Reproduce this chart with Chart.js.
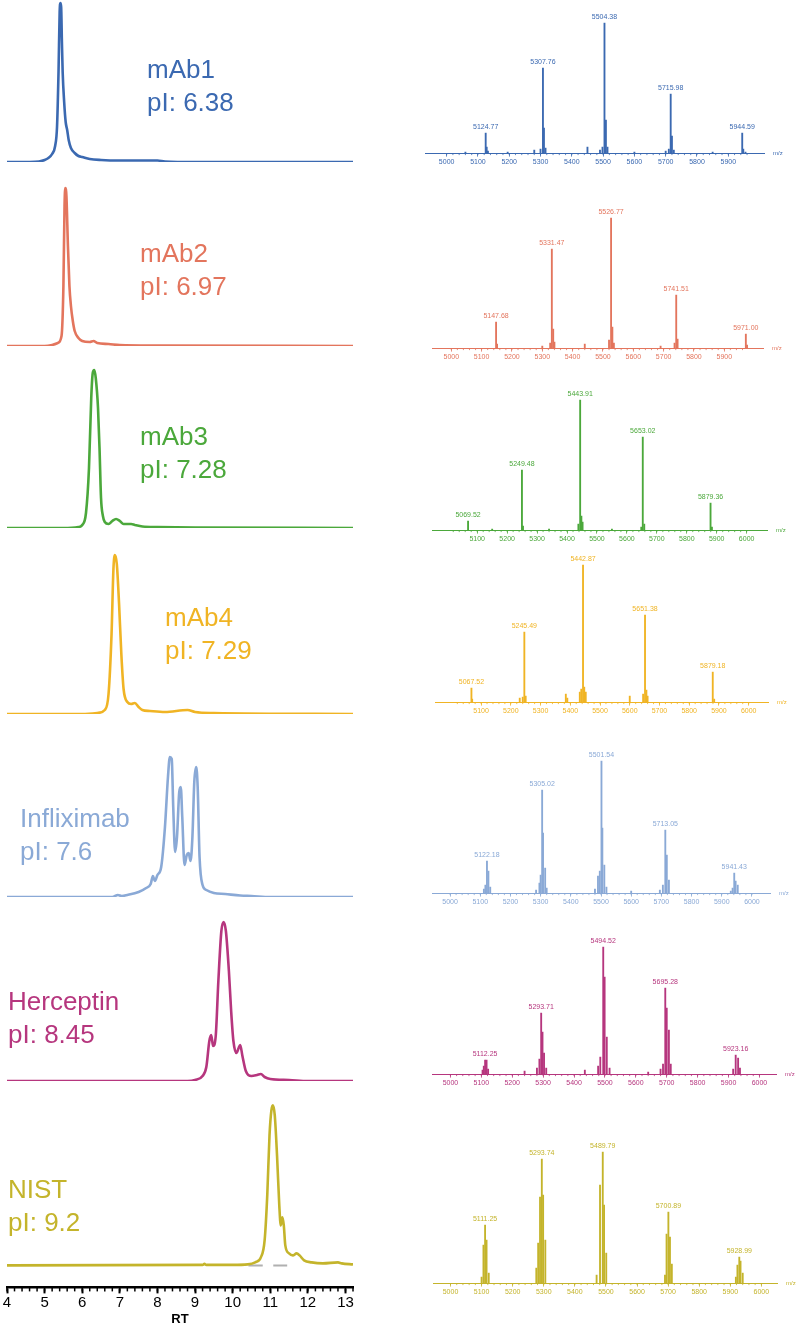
<!DOCTYPE html>
<html>
<head>
<meta charset="utf-8">
<script src="https://cdn.jsdelivr.net/npm/chart.js@4"></script>
<style>
    body { margin: 0; background: #fff; }
    #fig { position: relative; width: 800px; height: 1327px; overflow: hidden; font-family: "Liberation Sans", Arial, sans-serif; }
    #fig canvas { position: absolute; }
    .nome { position: absolute; font-size: 26px; line-height: 33px; white-space: nowrap; }
</style>
</head>
<body>
<div id="fig"></div>
<script>
// ==========================
// DADOS
// ==========================
const amostras = ["mAb1", "mAb2", "mAb3", "mAb4", "Infliximab", "Herceptin", "NIST"];
const pIs = ["6.38", "6.97", "7.28", "7.29", "7.6", "8.45", "9.2"];
const cores = ["#3b69b1", "#e3755d", "#4ba83b", "#f0b424", "#8aa9d6", "#b6367e", "#c4b42b"];

const rtTicks = [4, 5, 6, 7, 8, 9, 10, 11, 12, 13];
const mzTicks = [5000, 5100, 5200, 5300, 5400, 5500, 5600, 5700, 5800, 5900, 6000];

// cromatogramas (RT, sinal)
const rtMab1 = [4, 4.6, 4.85, 5.0, 5.1, 5.2, 5.28, 5.33, 5.37, 5.4, 5.42, 5.44, 5.46, 5.48, 5.52, 5.56, 5.6, 5.64, 5.7, 5.8, 5.9, 6.0, 6.2, 6.5, 7.0, 8.0, 8.2, 9.0, 13.2];
const sinalMab1 = [0, 0, 0.5, 2, 4, 8, 16, 35, 90, 150, 159, 155, 120, 90, 60, 40, 32, 22, 14, 9, 6, 5, 3, 2, 1.5, 1.5, 0.5, 0, 0];

const rtMab2 = [4, 5.0, 5.2, 5.35, 5.45, 5.5, 5.53, 5.55, 5.58, 5.62, 5.66, 5.7, 5.75, 5.8, 5.9, 6.0, 6.2, 6.3, 6.4, 6.7, 7.0, 8.0, 13.2];
const sinalMab2 = [0, 0, 1, 3, 10, 60, 140, 158, 150, 100, 60, 40, 25, 15, 8, 5, 4, 5, 3, 2, 1, 0.5, 0];

const rtMab3 = [4, 5.5, 5.9, 6.0, 6.1, 6.18, 6.24, 6.28, 6.32, 6.36, 6.42, 6.46, 6.5, 6.55, 6.6, 6.7, 6.8, 6.9, 7.0, 7.1, 7.3, 7.4, 7.6, 8.0, 9.0, 13.2];
const sinalMab3 = [0, 0, 1, 3, 15, 60, 130, 155, 158, 150, 120, 80, 30, 12, 6, 4, 7, 9, 7, 4, 4, 3, 1.5, 1, 0.5, 0];

const rtMab4 = [4, 6.0, 6.4, 6.6, 6.7, 6.78, 6.83, 6.87, 6.92, 6.98, 7.04, 7.1, 7.2, 7.3, 7.4, 7.5, 7.6, 7.8, 8.2, 8.8, 9.0, 9.5, 13.2];
const sinalMab4 = [0, 0, 1, 4, 20, 80, 145, 159, 150, 110, 60, 25, 12, 10, 11, 7, 4, 3, 2, 4, 2, 1, 0];

const rtInflix = [4, 6.8, 6.95, 7.05, 7.2, 7.5, 7.7, 7.82, 7.88, 7.93, 8.0, 8.1, 8.2, 8.28, 8.33, 8.38, 8.42, 8.47, 8.52, 8.58, 8.62, 8.66, 8.72, 8.78, 8.83, 8.88, 8.93, 8.98, 9.03, 9.07, 9.12, 9.2, 9.3, 9.5, 9.8, 10.2, 10.5, 11.0, 13.2];
const sinalInflix = [0, 0, 2, 1, 2, 5, 9, 13, 21, 16, 22, 30, 70, 120, 140, 138, 90, 45, 60, 105, 110, 80, 32, 42, 44, 36, 60, 115, 130, 110, 40, 12, 7, 4, 3, 1.5, 1, 0, 0];

const rtHercep = [4, 8.8, 9.0, 9.2, 9.3, 9.38, 9.43, 9.48, 9.55, 9.62, 9.7, 9.76, 9.82, 9.9, 9.96, 10.02, 10.1, 10.16, 10.2, 10.26, 10.35, 10.5, 10.65, 10.75, 10.85, 11.0, 11.5, 12.0, 13.2];
const sinalHercep = [0, 0, 1, 5, 14, 40, 46, 35, 45, 100, 150, 159, 150, 110, 70, 40, 28, 33, 36, 25, 10, 5, 6, 7, 4, 2, 1, 0, 0];

const rtNist = [4, 9.2, 9.25, 9.3, 10.0, 10.4, 10.6, 10.75, 10.85, 10.92, 10.98, 11.03, 11.07, 11.12, 11.18, 11.24, 11.28, 11.32, 11.36, 11.4, 11.5, 11.6, 11.7, 11.78, 11.9, 12.1, 12.4, 12.8, 12.9, 13.2];
const sinalNist = [0, 0.5, 1.5, 0.5, 0.5, 1, 3, 8, 25, 70, 130, 155, 160, 150, 110, 60, 40, 48, 40, 20, 12, 10, 12, 10, 5, 3, 2, 3, 2, 1];
const marcasNist = [[10.42, 10.8], [11.08, 11.45]];

// espectros (m/z, intensidade, rótulos)
const mzMab1 = [5060, 5124.77, 5128, 5132, 5195, 5280, 5300, 5307.76, 5311, 5316, 5450, 5490, 5498, 5504.38, 5509, 5514, 5600, 5700, 5710, 5715.98, 5720, 5726, 5850, 5944.59, 5948, 5955];
const intMab1 = [1, 20, 6, 2, 1, 3, 4, 85, 25, 5, 6, 3, 6, 130, 33, 6, 1, 2, 4, 59, 17, 3, 1, 20, 4, 1];
const picosMab1 = ["5124.77", "5307.76", "5504.38", "5715.98", "5944.59"];

const mzMab2 = [5147.68, 5151, 5300, 5326, 5331.47, 5336, 5340, 5440, 5520, 5526.77, 5531, 5536, 5690, 5736, 5741.51, 5746, 5971.00, 5975];
const intMab2 = [26, 4, 2, 5, 99, 19, 6, 4, 8, 130, 21, 5, 2, 5, 53, 9, 14, 3];
const picosMab2 = ["5147.68", "5331.47", "5526.77", "5741.51", "5971.00"];

const mzMab3 = [5069.52, 5150, 5249.48, 5253, 5340, 5438, 5443.91, 5448, 5452, 5550, 5648, 5653.02, 5658, 5879.36, 5884];
const intMab3 = [9, 1, 60, 4, 1, 6, 130, 14, 8, 1, 3, 93, 6, 27, 3];
const picosMab3 = ["5069.52", "5249.48", "5443.91", "5653.02", "5879.36"];

const mzMab4 = [5067.52, 5070, 5230, 5240, 5245.49, 5250, 5385, 5390, 5432, 5437, 5442.87, 5447, 5452, 5600, 5645, 5651.38, 5656, 5660, 5879.18, 5884];
const intMab4 = [14, 3, 4, 5, 70, 6, 8, 4, 10, 13, 137, 15, 10, 6, 8, 87, 12, 6, 30, 3];
const picosMab4 = ["5067.52", "5245.49", "5442.87", "5651.38", "5879.18"];

const mzInflix = [5112, 5117, 5122.18, 5127, 5133, 5285, 5296, 5300, 5305.02, 5308, 5315, 5320, 5480, 5490, 5496, 5501.54, 5504.5, 5511, 5518, 5600, 5695, 5705, 5713.05, 5718, 5725, 5930, 5936, 5941.43, 5946, 5953];
const intInflix = [4, 8, 32, 22, 6, 3, 10, 18, 103, 60, 25, 5, 4, 17, 22, 132, 65, 28, 6, 2, 3, 8, 63, 38, 13, 2, 5, 20, 12, 8];
const picosInflix = ["5122.18", "5305.02", "5501.54", "5713.05", "5941.43"];

const mzHercep = [5104, 5108, 5112.25, 5117, 5122, 5240, 5280, 5288, 5293.71, 5298, 5303, 5310, 5435, 5478, 5485, 5494.52, 5499, 5506, 5515, 5640, 5680, 5688, 5695.28, 5700, 5707, 5713, 5915, 5923.16, 5931, 5937];
const intHercep = [4, 8, 14, 14, 5, 3, 6, 15, 61, 42, 21, 6, 4, 8, 17, 127, 97, 37, 6, 2, 5, 10, 86, 66, 44, 10, 5, 19, 16, 6];
const picosHercep = ["5112.25", "5293.71", "5494.52", "5695.28", "5923.16"];

const mzNist = [5100, 5106, 5111.25, 5116, 5123, 5276, 5282, 5288, 5293.74, 5298, 5305, 5470, 5481, 5489.79, 5494, 5501, 5690, 5695, 5700.89, 5706, 5712, 5918, 5923, 5928.99, 5933, 5940];
const intNist = [6, 38, 58, 43, 10, 15, 40, 86, 124, 88, 43, 8, 98, 131, 78, 30, 8, 49, 71, 46, 19, 6, 18, 26, 22, 10];
const picosNist = ["5111.25", "5293.74", "5489.79", "5700.89", "5928.99"];

const cromatogramas = [
    [rtMab1, sinalMab1], [rtMab2, sinalMab2], [rtMab3, sinalMab3], [rtMab4, sinalMab4],
    [rtInflix, sinalInflix], [rtHercep, sinalHercep], [rtNist, sinalNist]
];
const espectros = [
    [mzMab1, intMab1, picosMab1], [mzMab2, intMab2, picosMab2], [mzMab3, intMab3, picosMab3],
    [mzMab4, intMab4, picosMab4], [mzInflix, intInflix, picosInflix], [mzHercep, intHercep, picosHercep],
    [mzNist, intNist, picosNist]
];

// ==========================
// LAYOUT
// ==========================
const FONTE = '"Liberation Sans", Arial, sans-serif';
const RT_X0 = 7;         // pixel do RT 4
const PX_RT = 37.56;     // pixels por unidade de RT
const linhasBase = [162, 346, 528, 714, 897, 1081, 1265];
const nomesPos = [[147, 53], [140, 237], [140, 420], [165, 601], [20, 802], [8, 985], [8, 1173]];

const espLayout = [
    { eixoY: 153, x5000: 430, px100: 34.8, min: 4985, max: 5960 },
    { eixoY: 348, x5000: 435, px100: 33.7, min: 4991, max: 5973 },
    { eixoY: 530, x5000: 430, px100: 33.3, min: 5005, max: 6012 },
    { eixoY: 702, x5000: 435, px100: 33.0, min: 5001, max: 6009 },
    { eixoY: 893, x5000: 435, px100: 33.2, min: 4991, max: 6009 },
    { eixoY: 1074, x5000: 435, px100: 34.0, min: 4991, max: 6003 },
    { eixoY: 1283, x5000: 435, px100: 34.2, min: 4994, max: 6000 }
];

const fig = document.getElementById("fig");
Chart.defaults.font.family = FONTE;

// tracinhos menores do eixo x
const tracosMenores = {
    id: "tracosMenores",
    afterDraw(chart, args, opts) {
        if (!opts.passo) return;
        const x = chart.scales.x;
        const ctx = chart.ctx;
        ctx.save();
        ctx.strokeStyle = opts.cor;
        ctx.lineWidth = opts.largura;
        const n = Math.floor((x.max - opts.inicio) / opts.passo + 1e-6);
        for (let k = 0; k <= n; k++) {
            const px = x.getPixelForValue(opts.inicio + k * opts.passo);
            ctx.beginPath();
            ctx.moveTo(px, x.top);
            ctx.lineTo(px, x.top + opts.comprimento);
            ctx.stroke();
        }
        ctx.restore();
    }
};

// rótulos dos picos e "m/z"
const rotulosPicos = {
    id: "rotulosPicos",
    afterDatasetsDraw(chart, args, opts) {
        if (!opts.picos) return;
        const ctx = chart.ctx;
        const x = chart.scales.x, y = chart.scales.y;
        ctx.save();
        ctx.fillStyle = opts.cor;
        ctx.font = "7px " + FONTE;
        ctx.textAlign = "center";
        ctx.textBaseline = "bottom";
        opts.picos.forEach(p => {
            const k = opts.mz.indexOf(parseFloat(p));
            ctx.fillText(p, x.getPixelForValue(opts.mz[k]), y.getPixelForValue(opts.int[k]) - 3);
        });
        ctx.textAlign = "left";
        ctx.textBaseline = "middle";
        ctx.font = "6px " + FONTE;
        ctx.fillText("m/z", x.right + 9, x.top);
        ctx.restore();
    }
};

// ==========================
// CROMATOGRAMAS
// ==========================
function cromatograma(i) {
    const [rt, sinal] = cromatogramas[i];
    const comEixo = i === cromatogramas.length - 1;
    const pad = 20;
    const ymin = comEixo ? -22 : 0;

    const canvas = document.createElement("canvas");
    canvas.width = Math.round(9.2 * PX_RT) + 2 * pad;
    canvas.height = comEixo ? 240 : 185;
    canvas.style.left = (RT_X0 - pad) + "px";
    fig.appendChild(canvas);

    const datasets = [{
        data: rt.map((x, k) => ({ x, y: sinal[k] })),
        borderColor: cores[i],
        borderWidth: 2.6,
        pointRadius: 0,
        cubicInterpolationMode: "monotone",
        fill: false
    }];

    if (comEixo) {
        marcasNist.forEach(m => {
            datasets.push({
                data: [{ x: m[0], y: 0 }, { x: m[1], y: 0 }],
                borderColor: "#b0b0b0",
                borderWidth: 2,
                pointRadius: 0
            });
        });
    }

    const chart = new Chart(canvas, {
        type: "line",
        data: { datasets },
        options: {
            responsive: false,
            animation: false,
            events: [],
            layout: { padding: { left: pad, right: pad, top: 5, bottom: comEixo ? 2 : 4 } },
            plugins: {
                legend: { display: false },
                tooltip: { enabled: false },
                tracosMenores: comEixo ? { passo: 0.2, inicio: 4, cor: "#000", largura: 1.5, comprimento: 4 } : {}
            },
            scales: {
                x: {
                    type: "linear",
                    min: 4,
                    max: 13.2,
                    display: comEixo,
                    border: { display: true, color: "#000", width: 2.5 },
                    grid: { display: true, drawOnChartArea: false, drawTicks: true, tickLength: 6, tickWidth: 2, tickColor: "#000" },
                    afterBuildTicks: ax => { ax.ticks = rtTicks.map(v => ({ value: v })); },
                    ticks: { color: "#000", font: { size: 15 }, padding: 0, maxRotation: 0, autoSkip: false, callback: v => String(v) },
                    title: { display: true, text: "RT", color: "#000", font: { size: 13, weight: "bold" }, padding: 0 }
                },
                y: { display: false, min: ymin, max: 200 }
            }
        },
        plugins: [tracosMenores]
    });

    const a = chart.chartArea;
    chart.options.scales.y.max = ymin + (a.bottom - a.top);
    chart.update("none");
    canvas.style.top = (linhasBase[i] - chart.scales.y.getPixelForValue(0)) + "px";

    const nome = document.createElement("div");
    nome.className = "nome";
    nome.style.color = cores[i];
    nome.style.left = nomesPos[i][0] + "px";
    nome.style.top = nomesPos[i][1] + "px";
    nome.innerHTML = amostras[i] + "<br>pI: " + pIs[i];
    fig.appendChild(nome);
}

// ==========================
// ESPECTROS
// ==========================
function espectro(i) {
    const [mz, int, picos] = espectros[i];
    const L = espLayout[i];
    const padE = 20, padD = 30;
    const largura = (L.max - L.min) * L.px100 / 100;

    const canvas = document.createElement("canvas");
    canvas.width = Math.round(largura) + padE + padD;
    canvas.height = 175;
    canvas.style.left = (L.x5000 + (L.min - 5000) * L.px100 / 100 - padE) + "px";
    fig.appendChild(canvas);

    const chart = new Chart(canvas, {
        type: "bar",
        data: {
            datasets: [{
                data: mz.map((x, k) => ({ x, y: int[k] })),
                backgroundColor: cores[i],
                barThickness: 1.2
            }]
        },
        options: {
            responsive: false,
            animation: false,
            events: [],
            layout: { padding: { left: padE, right: padD, top: 14, bottom: 2 } },
            plugins: {
                legend: { display: false },
                tooltip: { enabled: false },
                tracosMenores: { passo: 20, inicio: Math.ceil(L.min / 20) * 20, cor: cores[i], largura: 0.8, comprimento: 2 },
                rotulosPicos: { picos, mz, int, cor: cores[i] }
            },
            scales: {
                x: {
                    type: "linear",
                    min: L.min,
                    max: L.max,
                    border: { display: true, color: cores[i], width: 1 },
                    grid: { display: true, drawOnChartArea: false, drawTicks: true, tickLength: 3.5, tickWidth: 0.8, tickColor: cores[i], offset: false },
                    afterBuildTicks: ax => {
                        ax.ticks = mzTicks.filter(v => v >= L.min && v <= L.max).map(v => ({ value: v }));
                    },
                    ticks: { color: cores[i], font: { size: 7 }, padding: 1, maxRotation: 0, autoSkip: false, callback: v => String(v) }
                },
                y: { display: false, min: 0, max: 200 }
            }
        },
        plugins: [tracosMenores, rotulosPicos]
    });

    const a = chart.chartArea;
    chart.options.scales.y.max = a.bottom - a.top;
    chart.update("none");
    canvas.style.top = (L.eixoY - chart.chartArea.bottom) + "px";
}

for (let i = 0; i < cromatogramas.length; i++) {
    cromatograma(i);
    espectro(i);
}
</script>
</body>
</html>
